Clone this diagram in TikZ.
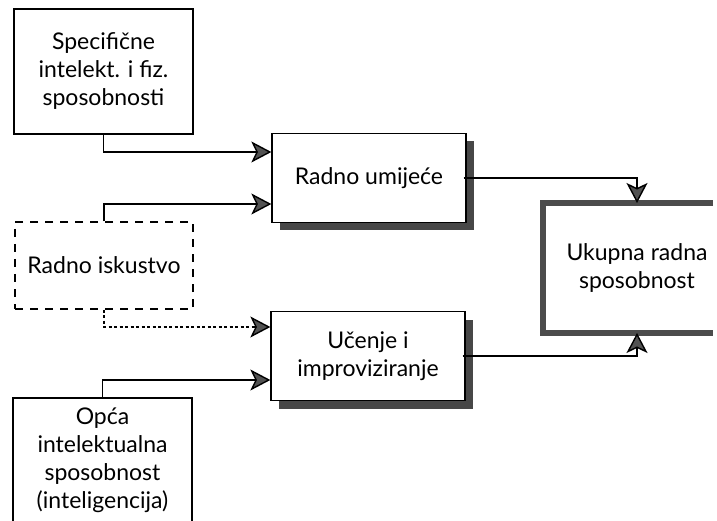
\documentclass[tikz,border=0pt]{standalone}
\usepackage{fontspec}
\setmainfont{Lato}
\usepackage{tikz}
\usetikzlibrary{arrows.meta, shadows}
\usepackage{xcolor}

\begin{document}
\begin{tikzpicture}[x=1pt, y=-1pt, font=\fontsize{23}{28}\selectfont]
    % Define styles
    \tikzstyle{source} = [rectangle, align=center, draw=black, line width=1.3pt, fill=white]
    \tikzstyle{dashedsource} = [source, dash pattern=on 8pt off 7pt]
    \tikzstyle{skill} = [rectangle, align=center, draw=black, line width=1.3pt, fill=white, minimum width=194pt, minimum height=89pt, drop shadow={shadow xshift=8pt, shadow yshift=-8pt, fill=black!72, opacity=1}]
    \tikzstyle{total} = [rectangle, align=center, line width=6pt, minimum width=182pt, minimum height=124pt]
    \tikzstyle{outline} = [draw=black!70, line width=6pt, line join=miter]
    \tikzstyle{arrow} = [line width=1.4pt, -{Stealth[length=20pt, width=21pt, inset=5pt, fill=black!68]}]
    \tikzstyle{dotarrow} = [arrow, dash pattern=on 3pt off 2.5pt]

    \useasboundingbox (0,0) rectangle (717,521);

    % Nodes
    \node (spec) [source, minimum width=179pt, minimum height=125pt] at (103.5,71.5) {Specifične\\intelekt. i fiz.\\sposobnosti};
    \node (iskustvo) [dashedsource, minimum width=178pt, minimum height=87pt] at (104,265.5) {Radno iskustvo};
    \node (opca) [source, minimum width=179pt, minimum height=124pt] at (102.5,460) {Opća\\intelektualna\\sposobnost\\(inteligencija)};
    \node (umijece) [skill] at (369,178) {Radno umijeće};
    \node (ucenje) [skill] at (368,356) {Učenje i\\improviziranje};
    \node (ukupna) [total] at (637,268) {Ukupna radna\\sposobnost};
    % outline of the total box, cut off at the right edge
    \draw [outline] ([xshift=-18pt]ukupna.north east) -| (ukupna.south west) -- ([xshift=-18pt]ukupna.south east);

    % Arrows
    \draw [arrow] (spec.south) |- ([yshift=26pt]umijece.west);
    \draw [arrow] (iskustvo.north) |- ([yshift=-26pt]umijece.west);
    \draw [dotarrow] (iskustvo.south) |- ([yshift=29pt]ucenje.west);
    \draw [arrow] (opca.north) |- ([yshift=-24pt]ucenje.west);
    \draw [arrow] ([xshift=-3pt]umijece.east) -| (ukupna.north);
    \draw [arrow] ([xshift=-3pt]ucenje.east) -| (ukupna.south);
\end{tikzpicture}
\end{document}
